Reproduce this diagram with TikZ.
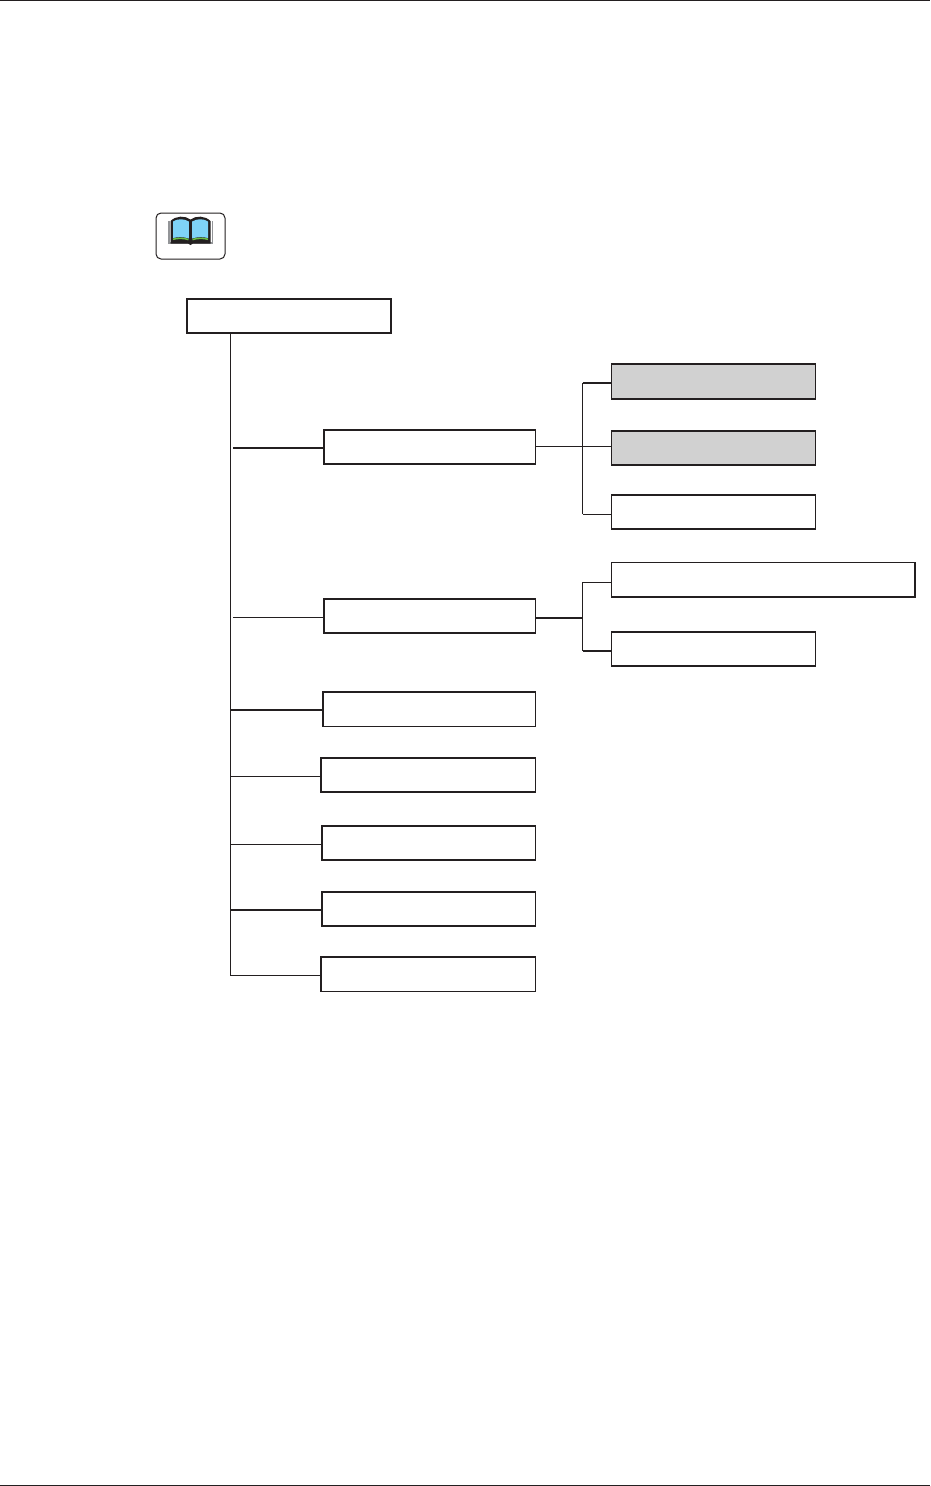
\documentclass[tikz,border=0pt]{standalone}
\definecolor{ink}{HTML}{231F20}
\definecolor{boxgrey}{HTML}{D1D1D1}
\definecolor{bookblue}{HTML}{7FD3F7}
\definecolor{bookgreen}{HTML}{6CBE45}
\definecolor{pagegrey}{HTML}{939598}
\tikzset{
  bx/.style={draw=ink,line width=1.4pt,fill=white,inner sep=0pt,outer sep=0pt},
  greybx/.style={bx,fill=boxgrey},
  thinln/.style={draw=ink,line width=1pt},
  thickln/.style={draw=ink,line width=1.8pt},
  rule/.style={draw=ink,line width=0.8pt}
}
\newcommand{\placebox}[6]{% style,name,x1,y1,x2,y2
  \node[#1,minimum width={(#5-#3)*1pt},minimum height={(#6-#4)*1pt}] (#2) at ({(#3+#5)/2},{(#4+#6)/2}) {};}
\begin{document}
\begin{tikzpicture}[x=1pt,y=-1pt]
\useasboundingbox (0,0) rectangle (930,1486);
% page rules
\coordinate (tl) at (0,0.5); \coordinate (tr) at (930,0.5);
\coordinate (bl) at (0,1485); \coordinate (br) at (930,1485);
\draw[rule] (tl) -- (tr);
\draw[rule] (bl) -- (br);
% icon
\draw[draw=ink,line width=1pt,fill=white,rounded corners=5pt] (156,213) rectangle (225,259);
% outer grey leaves
\fill[pagegrey] (168,220.5) rectangle (213,243.5);
\fill[white] (169.5,220.5) rectangle (211.5,241.5);
% dark cover and outline
\fill[ink] (170.5,221) .. controls (176,215.5) and (185,215.5) .. (190.5,219.5) .. controls (196,215.5) and (205,215.5) .. (210.5,221) -- (210.5,243.5) -- (193,243.5) -- (190.5,245) -- (188,243.5) -- (170.5,243.5) -- cycle;
% blue pages
\fill[bookblue] (173,221.5) .. controls (177.5,218.5) and (184,218.5) .. (188.8,221.5) -- (188.8,238.5) .. controls (184,236.8) and (177.5,236.8) .. (173,238) -- cycle;
\fill[bookblue] (192.2,221.5) .. controls (197,218.5) and (203.5,218.5) .. (208,221.5) -- (208,238) .. controls (203.5,236.8) and (197,236.8) .. (192.2,238.5) -- cycle;
% green page edges
\draw[bookgreen,line width=1.5pt] (173,239.3) .. controls (177.5,238) and (184,238) .. (188.5,239.6);
\draw[bookgreen,line width=1.5pt] (192.5,239.6) .. controls (197,238) and (203.5,238) .. (208,239.3);
% boxes
\placebox{bx}{root}{187}{299}{391}{333}
\placebox{bx}{a}{324}{430}{535.5}{464}
\placebox{bx}{b}{324}{599}{535.5}{633}
\placebox{bx}{c}{323}{692}{535.5}{726.5}
\placebox{bx}{d}{321}{758}{535.5}{792}
\placebox{bx}{e}{322}{826}{535.5}{860}
\placebox{bx}{f}{322}{892}{535.5}{926}
\placebox{bx}{g}{321}{957}{535.5}{991.5}
\placebox{greybx}{a1}{611.5}{364}{815.5}{399}
\placebox{greybx}{a2}{611.5}{431}{815.5}{465}
\placebox{bx}{a3}{611.5}{495}{815.5}{529}
\placebox{bx}{b1}{611.5}{562.5}{915}{597}
\placebox{bx}{b2}{611.5}{632}{815.5}{666}
% trunk
\coordinate (trunktop) at (230.5,333);
\coordinate (trunkend) at (230.5,975.5);
\coordinate (stub) at (233,0);
\coordinate (ay) at (0,448);
\coordinate (by) at (0,617.5);
\coordinate (cy) at (0,710);
\coordinate (dy) at (0,776);
\coordinate (ey) at (0,844);
\coordinate (fy) at (0,910);
\draw[thinln] (trunktop) -- (trunkend);
\draw[thickln,line width=1.4pt] (trunkend) -- (g.west |- trunkend);
\draw[thickln] (stub |- ay) -- (a.west |- ay);
\draw[thinln] (stub |- by) -- (b.west |- by);
\draw[thickln] (trunktop |- cy) -- (c.west |- cy);
\draw[thinln] (trunktop |- dy) -- (d.west |- dy);
\draw[thinln] (trunktop |- ey) -- (e.west |- ey);
\draw[thickln] (trunktop |- fy) -- (f.west |- fy);
% branch from a
\coordinate (ja0) at (582.5,446.5);
\coordinate (ja1) at (582.5,383);
\coordinate (ja3) at (582.5,514);
\draw[thinln] (a.east |- ja0) -- (a2.west |- ja0);
\draw[thinln] (ja1) -- (ja3);
\draw[thickln] (ja1) -- (a1.west |- ja1);
\draw[thinln] (ja3) -- (a3.west |- ja3);
% branch from b
\coordinate (jb0) at (582.5,618);
\coordinate (jb1) at (582.5,582);
\coordinate (jb2) at (582.5,651);
\draw[thickln] (b.east |- jb0) -- (jb0);
\draw[thinln] (jb1) -- (jb2);
\draw[thinln] (jb1) -- (b1.west |- jb1);
\draw[thickln] (jb2) -- (b2.west |- jb2);
\end{tikzpicture}
\end{document}
